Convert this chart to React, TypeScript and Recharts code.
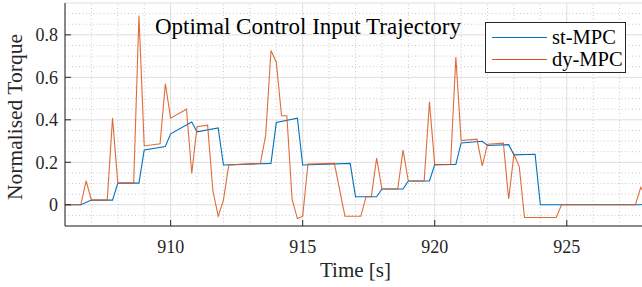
import React from "react";
import { LineChart, Line, XAxis, YAxis, CartesianGrid, ReferenceLine } from "recharts";

// st-MPC trajectory (time [s], normalised torque)
const stTime = [906.0, 906.6, 907.0, 907.8, 908.0, 908.8, 909.0, 909.8, 910.0, 910.8, 911.0, 911.8, 912.0, 913.8, 914.0, 914.8, 915.0, 916.8, 917.0, 917.8, 918.0, 918.8, 919.0, 919.8, 920.0, 920.8, 921.0, 921.8, 922.0, 922.8, 923.0, 923.8, 924.0, 927.8, 928.0];
const stValue = [0, 0, 0.022, 0.022, 0.102, 0.102, 0.258, 0.274, 0.334, 0.39, 0.343, 0.362, 0.187, 0.195, 0.387, 0.408, 0.187, 0.195, 0.038, 0.038, 0.074, 0.074, 0.112, 0.112, 0.189, 0.19, 0.291, 0.299, 0.279, 0.283, 0.235, 0.238, 0, 0, 0.01];

// dy-MPC trajectory
const dyTime = [906.0, 906.6, 906.8, 907.0, 907.6, 907.8, 908.0, 908.6, 908.8, 909.0, 909.6, 909.8, 910.0, 910.6, 910.8, 911.0, 911.4, 911.6, 911.8, 912.0, 912.2, 913.4, 913.6, 913.8, 914.0, 914.2, 914.4, 914.6, 914.8, 915.0, 915.2, 916.2, 916.6, 917.2, 917.4, 917.6, 917.8, 918.0, 918.6, 918.8, 919.0, 919.6, 919.8, 920.0, 920.6, 920.8, 921.0, 921.6, 921.8, 922.0, 922.6, 922.8, 923.0, 923.2, 923.4, 924.6, 924.8, 927.6, 927.8, 928.0];
const dyValue = [0, 0, 0.113, 0.022, 0.022, 0.408, 0.102, 0.102, 0.891, 0.277, 0.287, 0.57, 0.408, 0.45, 0.148, 0.367, 0.375, 0.066, -0.054, 0.022, 0.187, 0.195, 0.329, 0.726, 0.671, 0.419, 0.419, 0.025, -0.065, -0.054, 0.192, 0.195, -0.054, -0.054, 0.038, 0.038, 0.22, 0.074, 0.074, 0.257, 0.112, 0.112, 0.485, 0.189, 0.19, 0.696, 0.302, 0.309, 0.183, 0.285, 0.29, 0.027, 0.238, 0.18, -0.06, -0.06, 0, 0, 0.082, 0.04];

const xTicks = [910, 915, 920, 925];
const yTicks = [0, 0.2, 0.4, 0.6, 0.8];
const xMinor = [906, 907, 908, 909, 911, 912, 913, 914, 916, 917, 918, 919, 921, 922, 923, 924, 926, 927];
const yMinor = [-0.05, 0.05, 0.1, 0.15, 0.25, 0.3, 0.35, 0.45, 0.5, 0.55, 0.65, 0.7, 0.75, 0.85, 0.9];
const xDomain = [906, 928];
const yDomain = [-0.1, 0.95];

const seriesNames = ["st-MPC", "dy-MPC"];
const titleText = "Optimal Control Input Trajectory";
const xLabel = "Time [s]";
const yLabel = "Normalised Torque";

const BLUE = "#0072BD";
const ORANGE = "#D95319";
const FONT = "'Liberation Serif', 'Times New Roman', serif";

const stData = stTime.map((t, i) => ({ t, v: stValue[i] }));
const dyData = dyTime.map((t, i) => ({ t, v: dyValue[i] }));

const fmtY = (v: number) => (v === 0 ? "0" : String(v));

export default function App() {
  return (
    <div style={{ position: "absolute", left: 0, top: 0, width: 642, height: 287, overflow: "hidden", background: "#fff" }}>
      <LineChart width={646} height={287} margin={{ top: 3, right: 0, bottom: 0, left: 0 }}>
        <CartesianGrid stroke="#dedede" strokeWidth={1} />
        {xMinor.map((x) => (
          <ReferenceLine key={"xm" + x} x={x} stroke="#bdbdbd" strokeDasharray="1 2.5" strokeWidth={0.8} ifOverflow="hidden" />
        ))}
        {yMinor.map((y) => (
          <ReferenceLine key={"ym" + y} y={y} stroke="#bdbdbd" strokeDasharray="1 2.5" strokeWidth={0.8} ifOverflow="hidden" />
        ))}
        <XAxis
          type="number"
          dataKey="t"
          domain={xDomain}
          ticks={xTicks}
          allowDataOverflow
          height={61}
          tickSize={-6}
          tickMargin={20}
          stroke="#262626"
          tick={{ fill: "#262626", fontSize: 18, fontFamily: FONT }}
        />
        <XAxis
          xAxisId="top"
          orientation="top"
          type="number"
          dataKey="t"
          domain={xDomain}
          ticks={xTicks}
          allowDataOverflow
          height={0}
          tickSize={-6}
          tickFormatter={() => ""}
          stroke="#262626"
        />
        <YAxis
          type="number"
          domain={yDomain}
          ticks={yTicks}
          allowDataOverflow
          width={65}
          tickSize={-6}
          tickMargin={13}
          tickFormatter={fmtY}
          stroke="#262626"
          tick={{ fill: "#262626", fontSize: 18, fontFamily: FONT }}
        />
        <YAxis
          yAxisId="right"
          orientation="right"
          type="number"
          domain={yDomain}
          ticks={yTicks}
          allowDataOverflow
          width={0}
          tickSize={-6}
          tickFormatter={() => ""}
          stroke="#262626"
        />
        <Line data={stData} dataKey="v" name={seriesNames[0]} stroke={BLUE} strokeWidth={1.1} dot={false} isAnimationActive={false} />
        <Line data={dyData} dataKey="v" name={seriesNames[1]} stroke={ORANGE} strokeOpacity={0.85} strokeWidth={1.1} dot={false} isAnimationActive={false} />
      </LineChart>
      <svg width={642} height={287} style={{ position: "absolute", left: 0, top: 0, pointerEvents: "none" }}>
        <text x={308} y={34} textAnchor="middle" fontFamily={FONT} fontSize={23} fill="#000">{titleText}</text>
        <text x={355.5} y={277} textAnchor="middle" fontFamily={FONT} fontSize={21} fill="#262626">{xLabel}</text>
        <text x={0} y={0} transform="translate(22,117) rotate(-90)" textAnchor="middle" fontFamily={FONT} fontSize={21.5} fill="#262626">{yLabel}</text>
      </svg>
      <div style={{ position: "absolute", left: 485, top: 22, width: 141, height: 51, background: "#fff", border: "1px solid #262626", boxSizing: "border-box", fontFamily: FONT, fontSize: 20.5, color: "#000" }}>
        {seriesNames.map((n, i) => (
          <div key={n} style={{ position: "absolute", left: 0, top: i === 0 ? 3 : 25, height: 22, display: "flex", alignItems: "center" }}>
            <div style={{ marginLeft: 6, width: 55, height: 0, borderTop: "1px solid " + (i === 0 ? BLUE : ORANGE) }} />
            <span style={{ marginLeft: 5, lineHeight: "22px" }}>{n}</span>
          </div>
        ))}
      </div>
    </div>
  );
}
